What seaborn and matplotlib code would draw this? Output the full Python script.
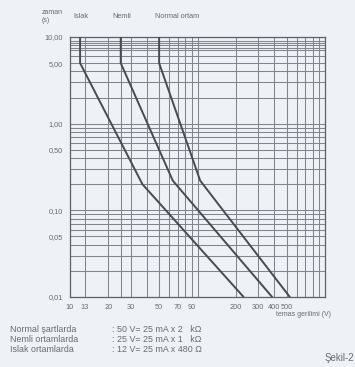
import numpy as np
import pandas as pd
import matplotlib
matplotlib.use("Agg")
import matplotlib.pyplot as plt
import seaborn as sns
from matplotlib.ticker import FixedLocator, NullFormatter

# curve data: touch voltage (V) vs. time (s)
islak_v = [12, 12, 37, 230]
islak_t = [10, 5, 0.2, 0.01]
nemli_v = [25, 25, 64, 385]
nemli_t = [10, 5, 0.22, 0.01]
normal_v = [50, 50, 105, 530]
normal_t = [10, 5, 0.22, 0.01]

curve_names = ["Islak", "Nemli", "Normal ortam"]

x_ticks = [10, 13, 20, 30, 50, 70, 90, 200, 300, 400, 500]
x_tick_labels = ["10", "13", "20", "30", "50", "70", "90", "200", "300", "400", "500"]
y_ticks = [10, 5, 1, 0.5, 0.1, 0.05, 0.01]
y_tick_labels = ["10,00", "5,00", "1,00", "0,50", "0,10", "0,05", "0,01"]

legend_left = ["Normal şartlarda", "Nemli ortamlarda", "Islak ortamlarda"]
legend_right = [": 50 V= 25 mA x 2   kΩ", ": 25 V= 25 mA x 1   kΩ", ": 12 V= 25 mA x 480 Ω"]

df = pd.concat([
    pd.DataFrame({"gerilim": islak_v, "zaman": islak_t, "egri": curve_names[0]}),
    pd.DataFrame({"gerilim": nemli_v, "zaman": nemli_t, "egri": curve_names[1]}),
    pd.DataFrame({"gerilim": normal_v, "zaman": normal_t, "egri": curve_names[2]}),
])

sns.set_style("white")
plt.rcParams["font.family"] = ["Liberation Sans", "DejaVu Sans"]

bg = "#eef2f6"
txt = "#676b72"
grid_c = "#80858e"

W, H = 355, 367
fig = plt.figure(figsize=(W / 100, H / 100), dpi=100, facecolor=bg)
ax = fig.add_axes([70 / W, 1 - 297 / H, 255 / W, 260 / H], facecolor=bg)

ax.set_xscale("log")
ax.set_yscale("log")
ax.set_xlim(10, 1000)
ax.set_ylim(0.01, 10)

# dense log grid, like the printed paper
xg = [m * 10 ** e for e in (1, 2) for m in range(1, 10)] + [13, 25, 1000]
yg = [m * 10 ** e for e in (-2, -1, 0) for m in range(1, 10)] + [10, 8.5, 7.5]
for v in xg:
    ax.axvline(v, color=grid_c, lw=0.75, zorder=1)
for v in yg:
    ax.axhline(v, color=grid_c, lw=0.75, zorder=1)

sns.lineplot(data=df, x="gerilim", y="zaman", hue="egri", units="egri",
             estimator=None, sort=False, palette=["#474b52"] * 3,
             linewidth=1.4, legend=False, ax=ax, zorder=3)

ax.xaxis.set_major_locator(FixedLocator(x_ticks))
ax.set_xticklabels(x_tick_labels)
ax.xaxis.set_minor_formatter(NullFormatter())
ax.yaxis.set_major_locator(FixedLocator(y_ticks))
ax.set_yticklabels(y_tick_labels)
ax.yaxis.set_minor_formatter(NullFormatter())
ax.tick_params(which="both", length=0, labelsize=5.3, labelcolor=txt, pad=5)
ax.set_xlabel("")
ax.set_ylabel("")
for s in ax.spines.values():
    s.set_color("#5d6168")
    s.set_linewidth(0.9)

# curve names above the frame
ax.text(12.2, 1.065, curve_names[0], transform=ax.get_xaxis_transform(),
        ha="center", va="bottom", fontsize=5.3, color=txt)
ax.text(25.5, 1.065, curve_names[1], transform=ax.get_xaxis_transform(),
        ha="center", va="bottom", fontsize=5.3, color=txt)
ax.text(46, 1.065, curve_names[2], transform=ax.get_xaxis_transform(),
        ha="left", va="bottom", fontsize=5.3, color=txt)

fig.text(42 / W, 1 - 12 / H, "zaman", fontsize=5, color=txt, va="center")
fig.text(42 / W, 1 - 20 / H, "(s)", fontsize=5, color=txt, va="center")
fig.text(331 / W, 1 - 314 / H, "temas gerilimi (V)", fontsize=5,
         color=txt, ha="right", va="center")

for i in range(3):
    y = 1 - (330 + 9.5 * i) / H
    fig.text(10 / W, y, legend_left[i], fontsize=6.4, color=txt, va="center")
    fig.text(112 / W, y, legend_right[i], fontsize=6.4, color=txt, va="center")

fig.text(354 / W, 1 - 358 / H, "Şekil-2", fontsize=7, color=txt,
         ha="right", va="center")

fig.savefig("out.png", dpi=100, facecolor=bg)
